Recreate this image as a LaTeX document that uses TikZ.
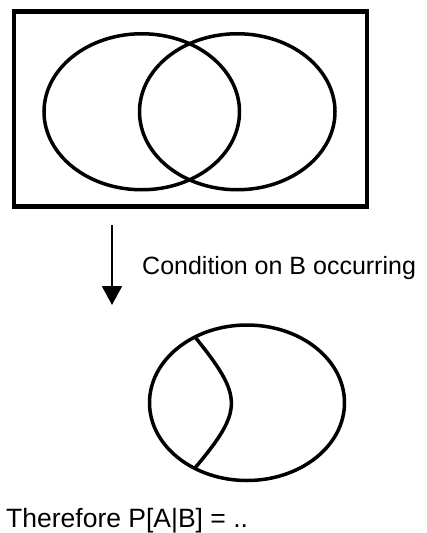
\documentclass[tikz,border=0pt]{standalone}
\usepackage{fontspec}
\setmainfont{Liberation Sans}
\usetikzlibrary{arrows.meta,positioning}

\begin{document}
\begin{tikzpicture}[
  x=1pt,y=-1pt,
  frame/.style={draw=black,line width=4.5pt},
  venn/.style={draw=black,line width=3.5pt},
  cond/.style={-{Triangle[width=20pt,length=19pt]},line width=2pt},
  label/.style={inner sep=0pt,anchor=base west,font=\fontsize{25}{30}\selectfont},
]
  \useasboundingbox (0,0) rectangle (427,533);

  % sample space with A and B
  \draw[frame] (14,11.5) rectangle (367,206.5);
  \draw[venn] (141.75,111.75) ellipse [x radius=97.75pt,y radius=78pt];
  \draw[venn] (237.25,111.75) ellipse [x radius=97.75pt,y radius=78pt];

  % conditioning step
  \coordinate (from) at (112,225);
  \coordinate (to)   at (112,305);
  \draw[cond] (from) -- (to);
  \node[label] (condtext) at (142,274) {Condition on B occurring};

  % B as the new sample space, A cut down to its part inside B
  \draw[venn] (247,402.75) ellipse [x radius=97.5pt,y radius=77.75pt];
  \draw[venn] (195,337) .. controls (243.5,397) and (243.5,410) .. (195,468);

  \node[label,font=\fontsize{26.5}{31}\selectfont] (result) at (6,527) {Therefore P[A|B] = ..};
\end{tikzpicture}
\end{document}
